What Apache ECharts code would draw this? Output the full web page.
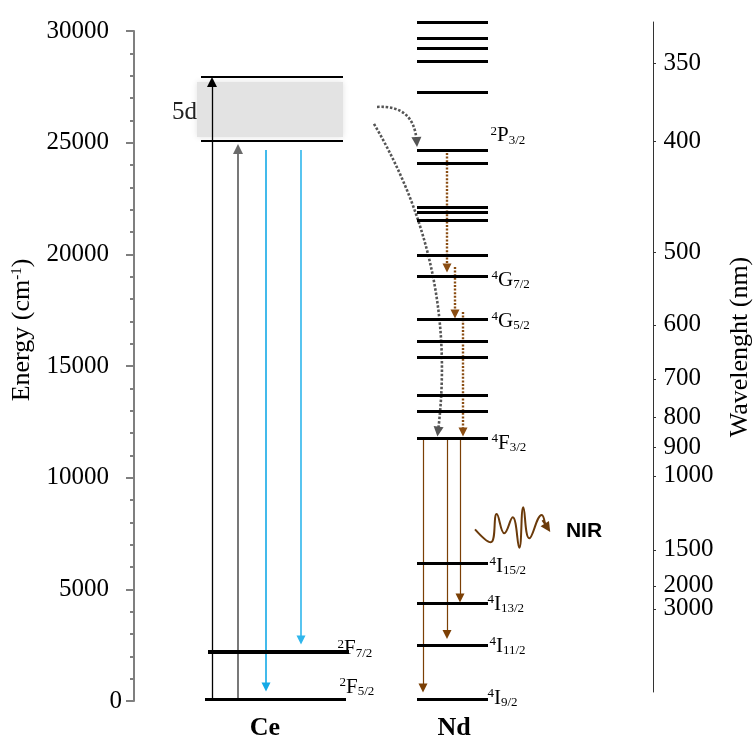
<!DOCTYPE html>
<html><head><meta charset="utf-8">
<script src="https://cdn.jsdelivr.net/npm/echarts@6/dist/echarts.min.js"></script>
<style>html,body{margin:0;padding:0;background:#fff}#c{width:755px;height:740px}</style>
</head><body><div id="c"></div>
<script>
// ---------------- data (energies in cm-1) ----------------
const species = ['Ce', 'Nd'];
const ceLevels = [27940, 25075, 2208, 90];            // 5d top, 5d bottom, 2F7/2, 2F5/2
const ce5dBand = [27716, 25254];                       // shaded 5d band (top, bottom)
const ndLevels = [30406, 29690, 29242, 28660, 27240, 24640, 24080, 22110, 21880, 21540,
                  19940, 19030, 17106, 16090, 15404, 13703, 12986, 11764, 6166, 4375, 2508, 76];
const ceLabels = [[2208, '2', 'F', '7/2'], [90, '2', 'F', '5/2']];
const ndLabels = [[24640, '2', 'P', '3/2'], [19030, '4', 'G', '7/2'], [17106, '4', 'G', '5/2'],
                  [11764, '4', 'F', '3/2'], [6166, '4', 'I', '15/2'], [4375, '4', 'I', '13/2'],
                  [2508, '4', 'I', '11/2'], [76, '4', 'I', '9/2']];
const ceAbsorption = [[0, 27716], [0, 24716]];         // from, to
const ceEmission = [[24670, 627], [24670, 2731]];
const transferEnergy = [[26600, 25030], [25840, 12067]];
const ndCascade = [[24537, 19388], [19433, 17328], [17418, 12045]];
const ndEmission = [[11764, 582], [11764, 2978], [11764, 4612]];
const nirWave = [[341, 7688], [356.7, 7106], [362.7, 8373], [370.3, 7509], [378.7, 8225],
                 [385.3, 6864], [389.3, 8673], [395.3, 7285], [407.7, 8328], [411, 7950]];
const nirArrow = [[408.5, 8100], [413.5, 7755]];
const nirText = [450, 7612];
const wavelengthLabels = [350, 400, 500, 600, 700, 800, 900, 1000, 1500, 2000, 3000];
const wavelengthEnergy = [28556, 25046, 20093, 16837, 14419, 12686, 11360, 10075, 6762, 5150, 4120];
const wavelengthAxisRange = [400, 30400];

// ---------------- layout (horizontal positions of the schematic) ----------------
const L = {
  xMax: 519,
  ceLevelX: [[67, 209], [67, 209], [74, 215], [71, 212]],
  ceLevelW: [2, 2, 4, 3],
  ndLevelX: [283, 354],
  bandX: [63, 209],
  ceAbsX: [78, 104], ceEmX: [132, 167],
  transferFromX: [243, 240], transferToX: [282.7, 304], transferCurve: [0.5, 0.17],
  ndCascadeX: [313, 321, 329], ndEmX: [289, 313, 326],
  colCenter: [131, 320],
  ceLabelX: 203, ceLabelOff: [[0, -3], [2, -11.5]],
  ndLabelX: 354, ndLabelOff: [[2, -15], [3, 4], [3, 2.5], [3, 5], [1, 3], [-1, 1], [1, 1.5], [-1, -1]]
};
const FONT = 'Liberation Serif';

const richLevel = {
  sup: {fontFamily: FONT, fontSize: 13, lineHeight: 12, verticalAlign: 'top', color: '#000'},
  main: {fontFamily: FONT, fontSize: 21, lineHeight: 22, color: '#000'},
  sub: {fontFamily: FONT, fontSize: 13, lineHeight: 11, verticalAlign: 'bottom', color: '#000'}
};
function levelLabel(r) { return '{sup|' + r[1] + '}{main|' + r[2] + '}{sub|' + r[3] + '}'; }
function seg(x0, e0, x1, e1) { return {coords: [[x0, e0], [x1, e1]]}; }
function ls(color, width, extra) { return Object.assign({color: color, width: width, opacity: 1}, extra || {}); }

const chart = echarts.init(document.getElementById('c'));
chart.setOption({
  animation: false,
  backgroundColor: '#fff',
  grid: [
    {left: 134, top: 31, width: 519, height: 670, outerBoundsMode: 'none'},
    {left: 134, top: 22, width: 519, height: 670, outerBoundsMode: 'none'}
  ],
  xAxis: [
    {gridIndex: 0, type: 'value', min: 0, max: L.xMax,
     axisLine: {show: false}, axisTick: {show: false}, splitLine: {show: false},
     axisLabel: {show: true, customValues: L.colCenter, margin: 14, hideOverlap: false,
       showMinLabel: true, showMaxLabel: true,
       formatter: v => species[L.colCenter.indexOf(v)],
       fontFamily: FONT, fontSize: 26, fontWeight: 'bold', color: '#000'}},
    {gridIndex: 1, type: 'value', min: 0, max: L.xMax, show: false}
  ],
  yAxis: [
    {gridIndex: 0, type: 'value', min: 0, max: 30000, interval: 5000, position: 'left',
     axisLine: {show: true, onZero: false, lineStyle: {color: '#7f7f7f', width: 2}},
     axisTick: {show: true, length: 8, lineStyle: {color: '#7f7f7f', width: 2}},
     minorTick: {show: true, splitNumber: 5, length: 4, lineStyle: {color: '#7f7f7f', width: 2}},
     splitLine: {show: false}, minorSplitLine: {show: false},
     axisLabel: {margin: 12, fontFamily: FONT, fontSize: 25, color: '#000',
       showMinLabel: true, showMaxLabel: true,
       formatter: v => v === 0 ? '{z|0}' : '{n|' + v + '}',
       rich: {z: {fontFamily: FONT, fontSize: 25, color: '#000'},
              n: {fontFamily: FONT, fontSize: 25, color: '#000', padding: [0, 13, 0, 0]}}},
     name: 'Energy (cm{s|-1})', nameLocation: 'middle', nameRotate: 90, nameGap: 96,
     nameTextStyle: {fontFamily: FONT, fontSize: 26, color: '#000', padding: [0, 0, 0, 72],
       rich: {s: {fontFamily: FONT, fontSize: 15, color: '#000', verticalAlign: 'top', lineHeight: 14}}}},
    {gridIndex: 1, type: 'value', min: wavelengthAxisRange[0], max: wavelengthAxisRange[1], position: 'right',
     axisLine: {show: true, onZero: false, lineStyle: {color: '#333', width: 1}},
     axisTick: {show: true, length: 3, customValues: wavelengthEnergy, lineStyle: {color: '#333'}},
     splitLine: {show: false},
     axisLabel: {show: false},
     name: 'Wavelenght (nm)', nameLocation: 'middle', nameRotate: 90, nameGap: 74,
     nameTextStyle: {fontFamily: FONT, fontSize: 26, color: '#000', padding: [0, 0, 0, 20]}}
  ],
  series: [
    // shaded 5d band
    {type: 'line', xAxisIndex: 0, yAxisIndex: 0, data: [], z: 1, silent: true,
     markArea: {silent: true,
       itemStyle: {color: '#e3e3e3', shadowBlur: 6, shadowColor: '#e3e3e3', opacity: 1},
       label: {show: true, position: 'left', distance: 0, offset: [0, 3], formatter: '5d',
               fontFamily: FONT, fontSize: 25, color: '#222'},
       data: [[{coord: [L.bandX[0], ce5dBand[0]]}, {coord: [L.bandX[1], ce5dBand[1]]}]]}},
    // Ce absorption arrows (black, grey)
    {type: 'lines', coordinateSystem: 'cartesian2d', xAxisIndex: 0, yAxisIndex: 0, z: 3, silent: true,
     symbol: ['none', 'triangle'], symbolSize: 10,
     data: [
       Object.assign(seg(L.ceAbsX[0], ceAbsorption[0][0], L.ceAbsX[0], ceAbsorption[0][1]), {lineStyle: ls('#000', 1.3)}),
       Object.assign(seg(L.ceAbsX[1], ceAbsorption[1][0], L.ceAbsX[1], ceAbsorption[1][1]), {lineStyle: ls('#6a6a6a', 1.8)})
     ]},
    // Ce emission arrows (blue)
    {type: 'lines', coordinateSystem: 'cartesian2d', xAxisIndex: 0, yAxisIndex: 0, z: 3, silent: true,
     symbol: ['none', 'triangle'], symbolSize: 9,
     data: [
       Object.assign(seg(L.ceEmX[0], ceEmission[0][0], L.ceEmX[0], ceEmission[0][1]), {lineStyle: ls('#14a9e6', 1.6)}),
       Object.assign(seg(L.ceEmX[1], ceEmission[1][0], L.ceEmX[1], ceEmission[1][1]), {lineStyle: ls('#2fb6ec', 1.6)})
     ]},
    // energy transfer Ce -> Nd (curved grey dotted)
    {type: 'lines', coordinateSystem: 'cartesian2d', xAxisIndex: 0, yAxisIndex: 0, z: 3, silent: true,
     symbol: ['none', 'triangle'], symbolSize: 10,
     data: transferEnergy.map((t, i) => Object.assign(
       seg(L.transferFromX[i], t[0], L.transferToX[i], t[1]),
       {lineStyle: ls('#555', 2.6, {type: [2.5, 1.8], curveness: L.transferCurve[i]})}))},
    // Nd non-radiative cascade (brown dotted)
    {type: 'lines', coordinateSystem: 'cartesian2d', xAxisIndex: 0, yAxisIndex: 0, z: 3, silent: true,
     symbol: ['none', 'triangle'], symbolSize: 9,
     lineStyle: ls('#8a4d12', 2.4, {type: [2, 1.6]}),
     data: ndCascade.map((c, i) => seg(L.ndCascadeX[i], c[0], L.ndCascadeX[i], c[1]))},
    // Nd NIR emission (brown)
    {type: 'lines', coordinateSystem: 'cartesian2d', xAxisIndex: 0, yAxisIndex: 0, z: 3, silent: true,
     symbol: ['none', 'triangle'], symbolSize: 9,
     lineStyle: ls('#7b3f05', 1.2),
     data: ndEmission.map((c, i) => seg(L.ndEmX[i], c[0], L.ndEmX[i], c[1]))},
    // NIR wave
    {type: 'line', xAxisIndex: 0, yAxisIndex: 0, z: 3, silent: true, smooth: 0.45,
     symbol: 'none', lineStyle: {color: '#6b3a0a', width: 2}, data: nirWave},
    {type: 'lines', coordinateSystem: 'cartesian2d', xAxisIndex: 0, yAxisIndex: 0, z: 3, silent: true,
     symbol: ['none', 'triangle'], symbolSize: 10, lineStyle: ls('#6b3a0a', 2),
     data: [seg(nirArrow[0][0], nirArrow[0][1], nirArrow[1][0], nirArrow[1][1])]},
    // Ce levels
    {type: 'lines', coordinateSystem: 'cartesian2d', xAxisIndex: 0, yAxisIndex: 0, z: 5, silent: true,
     symbol: 'none', clip: false,
     data: ceLevels.map((e, i) => Object.assign(seg(L.ceLevelX[i][0], e, L.ceLevelX[i][1], e),
       {lineStyle: ls('#000', L.ceLevelW[i])}))},
    // Nd levels
    {type: 'lines', coordinateSystem: 'cartesian2d', xAxisIndex: 0, yAxisIndex: 0, z: 5, silent: true,
     symbol: 'none', clip: false, lineStyle: ls('#000', 3),
     data: ndLevels.map(e => seg(L.ndLevelX[0], e, L.ndLevelX[1], e))},
    // level labels
    {type: 'scatter', xAxisIndex: 0, yAxisIndex: 0, z: 6, silent: true, symbolSize: 1,
     itemStyle: {color: 'rgba(0,0,0,0)', opacity: 1},
     label: {show: true, position: 'right', distance: 0, rich: richLevel, opacity: 1},
     data: ceLabels.map((r, i) => ({value: [L.ceLabelX, r[0]], label: {formatter: levelLabel(r), offset: L.ceLabelOff[i]}}))
       .concat(ndLabels.map((r, i) => ({value: [L.ndLabelX, r[0]], label: {formatter: levelLabel(r), offset: L.ndLabelOff[i]}})))},
    // wavelength tick labels (right axis)
    {type: 'scatter', xAxisIndex: 1, yAxisIndex: 1, z: 6, silent: true, symbolSize: 1, clip: false,
     itemStyle: {color: 'rgba(0,0,0,0)', opacity: 1},
     label: {show: true, position: 'right', distance: 10, opacity: 1,
             fontFamily: FONT, fontSize: 25, color: '#000',
             formatter: p => String(wavelengthLabels[p.dataIndex])},
     data: wavelengthEnergy.map(e => [L.xMax, e])},
    // NIR text
    {type: 'scatter', xAxisIndex: 0, yAxisIndex: 0, z: 6, silent: true, symbolSize: 1,
     itemStyle: {color: 'rgba(0,0,0,0)', opacity: 1},
     label: {show: true, position: 'inside', formatter: 'NIR', fontFamily: 'Liberation Sans',
             fontWeight: 'bold', fontSize: 21, color: '#000', opacity: 1},
     data: [nirText]}
  ]
});
</script></body></html>
